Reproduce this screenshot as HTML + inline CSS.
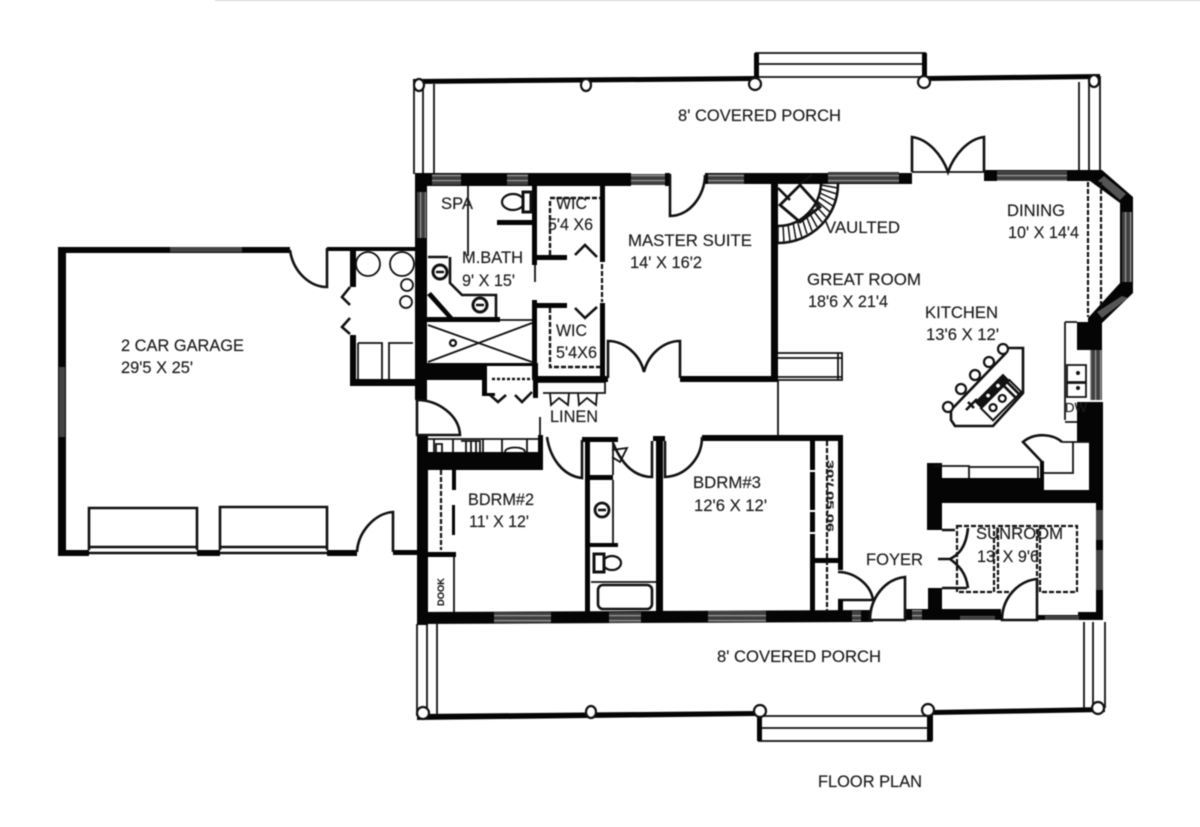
<!DOCTYPE html>
<html><head><meta charset="utf-8"><style>
html,body{margin:0;padding:0;background:#fff;width:1200px;height:827px;overflow:hidden}
svg{display:block;filter:blur(.55px)}
text{font-family:"Liberation Sans",sans-serif;font-size:16.5px;fill:#1c1c1c;stroke:#1c1c1c;stroke-width:.15}
.k{fill:#050505;stroke:none}
.l{fill:none;stroke:#111;stroke-width:1.8}
.m{fill:none;stroke:#111;stroke-width:2.6}
.t{fill:none;stroke:#111;stroke-width:3.4}
.d{fill:none;stroke:#111;stroke-width:2.2;stroke-dasharray:5 2}
.c{fill:#fff;stroke:#111;stroke-width:2.2}
.wh{fill:url(#hs)}.wv{fill:url(#vs)}
</style></head><body>
<svg width="1200" height="827" viewBox="0 0 1200 827" xmlns="http://www.w3.org/2000/svg">
<defs>
<pattern id="hs" width="6" height="5" patternUnits="userSpaceOnUse"><rect width="6" height="5" fill="#3f3f3f"/><rect y="0" width="6" height="1.2" fill="#9c9c9c"/></pattern>
<pattern id="vs" width="5" height="6" patternUnits="userSpaceOnUse"><rect width="5" height="6" fill="#3f3f3f"/><rect x="0" width="1.2" height="6" fill="#9c9c9c"/></pattern>
</defs>
<rect width="1200" height="827" fill="#fff"/>
<line x1="215" y1="0" x2="1200" y2="0" stroke="#bbb" stroke-width="1.5"/>

<!-- top porch -->
<path class="k" d="M413 79L754 76V81L413 84ZM926 76L1100 74V79L926 81Z"/>
<path class="l" d="M754 77H926M755 53H926M756 64H924"/>
<path class="k" d="M754 53h5v26h-5zM922 53h5v26h-5z"/>
<path class="l" d="M414 82V174M423 84V174M434 84V174M1079 82V170M1089 82V170M1100 76V170"/>
<ellipse class="c" cx="419" cy="85" rx="5" ry="6"/><ellipse class="c" cx="586" cy="85" rx="5" ry="6"/><ellipse class="c" cx="755" cy="84" rx="6" ry="6"/><ellipse class="c" cx="924" cy="82" rx="6" ry="6"/><ellipse class="c" cx="1094" cy="81" rx="5" ry="6"/>

<!-- bottom porch -->
<path class="k" d="M417 714L757 711V716L417 720ZM932 710L1105 707V712L932 715Z"/>
<path class="l" d="M757 716H932M758 728H930M758 741H932"/>
<path class="k" d="M757 711h5v30h-5zM927 711h6v30h-6z"/>
<path class="l" d="M417 624V716M427 624V716M437 624V716M1084 622V708M1093 622V708M1105 622V708"/>
<ellipse class="c" cx="423" cy="713" rx="6" ry="6"/><ellipse class="c" cx="591" cy="712" rx="5" ry="6"/><ellipse class="c" cx="760" cy="711" rx="6" ry="6"/><ellipse class="c" cx="928" cy="710" rx="6" ry="6"/><ellipse class="c" cx="1098" cy="708" rx="6" ry="6"/>

<!-- exterior walls -->
<path class="k" d="M415 173H631V186H415Z M665 173H670V186H665Z M705 173H912V184H705Z M984 170H1100V181H984Z"/>
<rect class="wh" x="432" y="174" width="29" height="11"/><rect class="wh" x="507" y="174" width="21" height="11"/><rect class="wh" x="631" y="174" width="34" height="11"/><rect class="wh" x="708" y="174" width="36" height="10"/><rect class="wh" x="828" y="172" width="71" height="11"/><rect class="wh" x="997" y="171" width="70" height="10"/>
<path class="l" d="M912 172H984"/>
<path class="k" d="M415 173H427V400H415Z M417 435H428V625H417Z"/>
<rect class="wv" x="417" y="192" width="9" height="46"/>
<path class="k" d="M417 612L873 610V622L417 624Z M905 609H1001V620H905Z M1001 615H1103V620H1001Z M1078 612H1103V620H1078Z"/>
<rect class="wh" x="494" y="612" width="57" height="11"/><rect class="wh" x="609" y="612" width="32" height="11"/><rect class="wh" x="708" y="611" width="58" height="11"/><rect class="wh" x="852" y="611" width="9" height="10"/><rect class="wh" x="912" y="610" width="10" height="10"/><rect class="wh" x="960" y="616" width="35" height="4"/><rect class="wh" x="1045" y="616" width="34" height="4"/>

<!-- bay -->
<path class="k" d="M1095 170H1102L1133 197V293L1102 323V350H1088V318L1120 283V203L1090 181Z"/>
<path d="M1104 176L1126 194L1120 200L1098 181Z" fill="#555"/>
<rect class="wv" x="1122" y="212" width="10" height="70"/>
<path d="M1097 312L1122 296L1128 298L1102 318Z" fill="#555"/>
<path class="d" d="M1088 182V317M1101 182V307"/>

<!-- right wall -->
<path class="k" d="M1077 322H1102V350H1088H1077Z M1077 402H1103V503H1089V442H1077Z M1096 503H1103V620H1096Z"/>
<rect class="wv" x="1090" y="350" width="12" height="50"/><rect x="1096" y="510" width="7" height="30" fill="#444"/><rect x="1096" y="550" width="7" height="40" fill="#444"/>
<path class="l" d="M1065 322V420M1065 322H1077M1065 422H1077"/>
<path class="l" d="M1067 365H1086V382H1067ZM1067 383H1086V397H1067Z"/><circle cx="1078" cy="388" r="2" fill="#111"/><circle cx="1078" cy="373" r="2" fill="#111"/>
<text x="1065" y="412" textLength="22" lengthAdjust="spacingAndGlyphs" style="font-size:13px">DW</text>

<!-- kitchen mass / sunroom -->
<path class="k" d="M927 463H942V478H1043V490H1089V503H942V530H927Z"/>
<path class="l" d="M934 466H969V478M970 467H1038V478"/>
<path class="k" d="M1040 461h4v30h-4z"/>
<path class="l" d="M1062 442H1090M1073 442V473H1043"/>
<path class="m" d="M1042 462L1023 442C1035 432 1053 434 1062 442"/>
<path class="k" d="M928 588H942V620H928Z"/>
<path class="m" d="M942 530H955M942 588H967"/>
<path class="d" d="M957 526H994V592H957ZM998 526H1037V592H998ZM1040 526H1077V592H1040Z"/>
<path class="m" d="M968 528C966 548 958 555 950 559C958 565 966 572 968 588M938 559H952"/>
<path class="m" d="M1037 579V620H1002C1002 598 1018 581 1037 579Z" style="fill:#fff"/>
<path class="m" d="M905 577V620H870C870 598 885 579 905 577Z" style="fill:#fff"/>
<path class="m" d="M838 572C855 572 871 585 873 600H838"/>

<!-- bdrm3 -->
<path class="k" d="M702 435H843V441H702Z M838 441H843V570H838Z M815 558H843V563H815Z M810 441H815V612H810Z M838 600H843V612H838Z"/>
<path class="d" d="M827 441V612"/>
<rect x="808" y="470" width="9" height="2" fill="#fff"/><rect x="808" y="510" width="9" height="2" fill="#fff"/><rect x="808" y="532" width="9" height="2" fill="#fff"/>
<text transform="translate(827,460) rotate(90)" textLength="72" lengthAdjust="spacingAndGlyphs" style="font-size:9px;font-weight:bold">30'/.05.06</text>
<path class="k" d="M653 436H665V441H653Z M656 441H663V612H656Z M582 437H618V442H582Z M585 442H590V612H585Z"/>
<path class="m" d="M702 437C702 458 686 476 665 477V441M652 441V477C632 477 620 460 613 443M547 437C550 458 563 476 582 478V440"/>
<path class="k" d="M590 475H613V480H590Z M590 543H618V547H590Z"/>
<path class="l" d="M613 442V475M613 480V543M591 582H656"/>
<path class="l" d="M612 450L627 448L620 462L612 457"/>
<circle class="c" cx="602" cy="510" r="7" style="stroke-width:2.8"/><path class="m" d="M598 510H606"/>
<ellipse class="c" cx="612" cy="563" rx="9" ry="7"/><path class="c" d="M594 554h10v18h-10z" style="stroke-width:3"/>
<rect class="m" x="598" y="585" width="54" height="24" rx="5"/>

<!-- bdrm2 -->
<path class="k" d="M428 452H543V470H428Z M538 435H543V470H538Z M452 470H456V490H452Z M428 552H456V557H428Z"/>
<path class="l" d="M428 439H538M540 417V435M454 557V612M453 505V535M434 439V452M453 439V452M483 439V452M502 439V452M527 439V452"/>
<path class="l" d="M436 452V444H442V452M461 441H480V452M466 441V452M471 441V452M476 441V452M505 452C505 446 525 446 525 452"/>
<path class="k" d="M452 505h3v30h-3z"/>
<path class="d" d="M441 470V550"/>
<text transform="translate(444,606) rotate(-90)" textLength="28" lengthAdjust="spacingAndGlyphs" style="font-size:9px;font-weight:bold">DOOK</text>

<!-- entry -->
<path class="m" d="M417 400V435H460C459 415 438 400 417 400Z"/>

<!-- interior: bath / closets -->
<path class="k" d="M532 186H537V265H532Z M532 300H537V378H532Z M600 186H605V262H600Z M600 303H605V378H600Z M537 255H567V260H537Z M537 303H567V308H537Z"/>
<path class="l" d="M535 265V282"/>
<path class="d" d="M602 264V302"/>
<path class="d" d="M550 255V200M550 198H600M550 308V367H600" style="stroke-width:2.4"/>
<path class="m" d="M575 255L585 245L597 257M575 308L585 318L597 307"/>
<path class="l" d="M468 186V256"/>
<path class="m" d="M428 257H448M450 257V283L462 295H496V318"/>
<circle class="c" cx="440" cy="272" r="7" style="stroke-width:3"/><circle class="c" cx="480" cy="305" r="7" style="stroke-width:3"/><path class="m" d="M436 272H444M476 305H484"/>
<ellipse class="c" cx="513" cy="202" rx="11" ry="8"/><path class="c" d="M523 192h8v20h-8z" style="stroke-width:3"/>
<path class="k" d="M497 220H532V225H497Z M427 317H500V322H427Z"/>
<path class="k" d="M427 295L431 292L453 317H447Z"/>
<path class="l" d="M500 320H532M428 325L532 362M428 362L532 323"/>
<circle class="c" cx="453" cy="343" r="3"/>
<path class="k" d="M427 363H487V380H427Z M487 363H535V366H487Z M482 380H487V395H482Z M482 393H495V396H482Z M533 363H538V398H533Z"/>
<path class="m" d="M492 379H535" style="stroke-dasharray:3 2"/>
<path class="m" d="M490 395L498 402L506 395M515 395L522 402L532 392"/>
<path class="l" d="M538 382H605V393H543M605 378V393"/>
<path class="k" d="M538 376H608V382H538Z"/>
<path class="l" d="M550 393L551 405L559 398L568 405L569 393M578 393L579 405L587 398L596 405L597 393"/>

<!-- master -->
<path class="k" d="M680 376H778V382H680Z M771 184H778V380H771Z"/>
<path class="m" d="M608 378V341C625 341 640 355 644 372C648 355 663 341 680 341V378"/>
<path class="m" d="M670 174V216C690 216 705 195 705 175" style="fill:#fff"/>
<path class="l" d="M778 380V436M778 353H842V380H778M778 358H842M778 377H842M838 353V380"/>

<!-- stairs -->
<path class="m" d="M778 243C812 243 838 216 838 184"/><path class="m" d="M778 226C802 226 820 206 821 184"/>
<path class="l" d="M778 243L778 226M784 243L783 225M790 241L788 224M796 240L793 222M802 238L797 220M807 234L802 218M812 231L806 215M817 227L809 212M822 222L812 209M826 217L815 205M830 212L817 201M833 206L819 197M835 200L820 193M837 194L821 189M838 188L821 185" style="stroke-width:1.5"/>
<path class="t" d="M780 205L800 185L820 207L800 222Z" style="stroke-width:2.8"/>
<path class="m" d="M778 188L790 200M800 184L812 175"/>

<!-- island -->
<path class="m" d="M1006 348H1023V393L993 426H955L951 420L951 410L1006 353"/>
<circle cx="1003" cy="349" r="5" class="c"/><circle cx="989" cy="362" r="5" class="c"/><circle cx="975" cy="375" r="5" class="c"/><circle cx="961" cy="389" r="5" class="c"/><circle cx="948" cy="407" r="5" class="c"/>
<g transform="translate(998,397) rotate(-45)">
<rect x="-20" y="-13" width="40" height="9" fill="#111"/><rect x="-20" y="-4" width="40" height="17" fill="#fff" stroke="#111" stroke-width="2"/>
<circle cx="-11" cy="4" r="3.5" class="c"/><circle cx="2" cy="4" r="3.5" class="c"/><circle cx="-6" cy="-8" r="3" class="c"/><circle cx="8" cy="-8" r="3" class="c"/><path class="m" d="M12 -4V13M17 -4V13"/>
</g>
<path class="m" d="M968 402L974 408M977 399L966 410"/>

<!-- garage -->
<path class="k" d="M58 247H290V253H66V556H58Z M327 247H415V251H327Z M58 550H89V556H58Z M197 550H220V556H197Z M327 550H357V556H327Z M393 550H417V555H393Z"/>
<rect x="170" y="247" width="72" height="5" fill="#444"/><rect x="59" y="367" width="6" height="70" fill="#444"/>
<path class="m" d="M89 550V508H197V550M89 547H197M89 553H197M220 550V507H327V550M220 547H327M220 553H327"/>
<path class="m" d="M290 250C293 272 310 287 327 287V248"/>
<path class="m" d="M357 552C358 532 375 513 393 512V552"/>
<path class="k" d="M350 249H356V287H350Z M350 335H356V386H350Z M350 379H417V386H350Z"/>
<path class="m" d="M350 287L342 297L350 305M350 318L342 327L350 334"/>
<path class="l" d="M358 343H382V379M358 343V379M389 379V343H413"/>
<circle class="l" cx="368" cy="264" r="12"/><circle class="l" cx="402" cy="264" r="12"/><circle class="l" cx="407" cy="285" r="6"/><circle class="l" cx="406" cy="302" r="6"/>

<!-- double door top -->
<path class="m" d="M912 172V137C928 139 942 155 948 172C954 155 968 139 984 137V172"/>

<!-- labels -->
<text x="678" y="121" textLength="163" lengthAdjust="spacingAndGlyphs">8' COVERED PORCH</text>
<text x="441" y="209" textLength="32" lengthAdjust="spacingAndGlyphs">SPA</text>
<text x="556" y="209" textLength="31" lengthAdjust="spacingAndGlyphs">WIC</text>
<text x="548" y="230" textLength="45" lengthAdjust="spacingAndGlyphs">5'4 X6</text>
<text x="628" y="246" textLength="124" lengthAdjust="spacingAndGlyphs">MASTER SUITE</text>
<text x="630" y="268" textLength="72" lengthAdjust="spacingAndGlyphs">14' X 16'2</text>
<text x="462" y="263" textLength="61" lengthAdjust="spacingAndGlyphs">M.BATH</text>
<text x="462" y="286" textLength="53" lengthAdjust="spacingAndGlyphs">9' X 15'</text>
<text x="556" y="336" textLength="31" lengthAdjust="spacingAndGlyphs">WIC</text>
<text x="556" y="358" textLength="41" lengthAdjust="spacingAndGlyphs">5'4X6</text>
<text x="550" y="422" textLength="48" lengthAdjust="spacingAndGlyphs">LINEN</text>
<text x="121" y="351" textLength="123" lengthAdjust="spacingAndGlyphs">2 CAR GARAGE</text>
<text x="121" y="373" textLength="72" lengthAdjust="spacingAndGlyphs">29'5 X 25'</text>
<text x="825" y="233" textLength="75" lengthAdjust="spacingAndGlyphs">VAULTED</text>
<text x="1007" y="216" textLength="58" lengthAdjust="spacingAndGlyphs">DINING</text>
<text x="1008" y="238" textLength="71" lengthAdjust="spacingAndGlyphs">10' X 14'4</text>
<text x="807" y="285" textLength="114" lengthAdjust="spacingAndGlyphs">GREAT ROOM</text>
<text x="808" y="307" textLength="80" lengthAdjust="spacingAndGlyphs">18'6 X 21'4</text>
<text x="925" y="318" textLength="73" lengthAdjust="spacingAndGlyphs">KITCHEN</text>
<text x="926" y="340" textLength="73" lengthAdjust="spacingAndGlyphs">13'6 X 12'</text>
<text x="468" y="505" textLength="66" lengthAdjust="spacingAndGlyphs">BDRM#2</text>
<text x="469" y="527" textLength="60" lengthAdjust="spacingAndGlyphs">11' X 12'</text>
<text x="693" y="488" textLength="68" lengthAdjust="spacingAndGlyphs">BDRM#3</text>
<text x="694" y="511" textLength="73" lengthAdjust="spacingAndGlyphs">12'6 X 12'</text>
<text x="866" y="565" textLength="57" lengthAdjust="spacingAndGlyphs">FOYER</text>
<text x="976" y="539" textLength="87" lengthAdjust="spacingAndGlyphs">SUNROOM</text>
<text x="977" y="562" textLength="62" lengthAdjust="spacingAndGlyphs">13' X 9'6</text>
<text x="717" y="662" textLength="164" lengthAdjust="spacingAndGlyphs">8' COVERED PORCH</text>
<text x="818" y="787" textLength="104" lengthAdjust="spacingAndGlyphs">FLOOR PLAN</text>
</svg>
</body></html>
